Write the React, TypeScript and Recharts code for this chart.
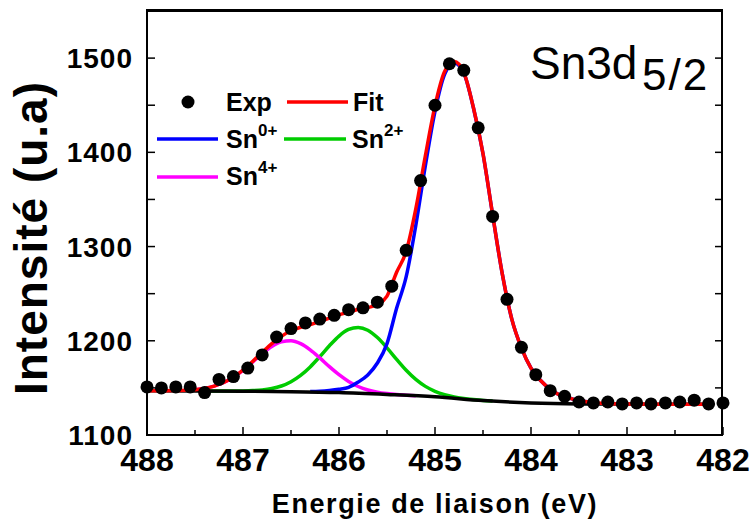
import React from 'react';
import { ComposedChart, Line, Scatter, XAxis, YAxis } from 'recharts';

// Sn3d5/2 XPS spectrum — experimental points, fit, background and components

const expX = [488, 487.85, 487.7, 487.55, 487.4, 487.25, 487.1, 486.95, 486.8, 486.65, 486.5, 486.35, 486.2, 486.05, 485.9, 485.75, 485.6, 485.45, 485.3, 485.15, 485, 484.85, 484.7, 484.55, 484.4, 484.25, 484.1, 483.95, 483.8, 483.65, 483.5, 483.35, 483.2, 483.05, 482.9, 482.75, 482.6, 482.45, 482.3, 482.15, 482];
const expY = [1151, 1150, 1151, 1151, 1145, 1159, 1162, 1171, 1185, 1204, 1213, 1219, 1223, 1227, 1233, 1235, 1241, 1258, 1296, 1370, 1450, 1494, 1487, 1426, 1332, 1244, 1193, 1164, 1147, 1141, 1135, 1134, 1135, 1133, 1134, 1133, 1134, 1135, 1137, 1133, 1134];

const fitX = [488, 487.9, 487.8, 487.7, 487.6, 487.5, 487.4, 487.3, 487.2, 487.1, 487, 486.9, 486.8, 486.7, 486.6, 486.5, 486.4, 486.3, 486.2, 486.1, 486, 485.9, 485.8, 485.7, 485.6, 485.5, 485.4, 485.3, 485.2, 485.1, 485, 484.9, 484.8, 484.7, 484.6, 484.5, 484.4, 484.3, 484.2, 484.1, 484, 483.9, 483.8, 483.7, 483.6, 483.5, 483.4, 483.3, 483.2, 483, 482.5, 482.2];
const fitY = [1147.0, 1147.0, 1147.0, 1147.2, 1147.4, 1148.1, 1149.4, 1151.9, 1155.7, 1161.4, 1169.0, 1178.0, 1187.7, 1197.0, 1204.7, 1210.6, 1214.4, 1217.1, 1220.6, 1224.0, 1227.5, 1230.3, 1233.5, 1235.2, 1238.5, 1247.5, 1272.7, 1294.9, 1340.1, 1396.6, 1449.4, 1485.8, 1496.4, 1484.8, 1447.6, 1398.6, 1334.0, 1271.5, 1223.0, 1192.5, 1171.0, 1157.8, 1148.6, 1142.4, 1139.2, 1136.5, 1135.0, 1133.9, 1133.4, 1132.8, 1132.7, 1132.6];

const bgX = [488, 487.5, 487, 486.5, 486, 485.5, 485, 484.5, 484, 483.5, 483, 482.5, 482.2];
const bgY = [1147, 1146.8, 1146.5, 1146.0, 1145.0, 1143.0, 1140.5, 1136.5, 1134.0, 1133.0, 1132.8, 1132.7, 1132.6];

const sn0X = [486.3, 486.2, 486.1, 486, 485.9, 485.8, 485.7, 485.6, 485.5, 485.4, 485.3, 485.2, 485.1, 485, 484.9, 484.8, 484.7, 484.6, 484.5, 484.4, 484.3, 484.2, 484.1, 484, 483.9, 483.8, 483.7, 483.6, 483.5, 483.4, 483.3];
const sn0Y = [1146.1, 1146.4, 1147.2, 1148.5, 1150.6, 1156.2, 1163.8, 1176.4, 1197.0, 1234.5, 1268.0, 1322.5, 1386.0, 1443.5, 1482.7, 1494.9, 1484.1, 1447.3, 1398.5, 1334.0, 1271.5, 1223.0, 1192.5, 1171.0, 1157.8, 1148.6, 1142.4, 1139.2, 1136.5, 1135.0, 1133.9];

const sn2X = [487.4, 487.3, 487.2, 487.1, 487, 486.9, 486.8, 486.7, 486.6, 486.5, 486.4, 486.3, 486.2, 486.1, 486, 485.9, 485.8, 485.7, 485.6, 485.5, 485.4, 485.3, 485.2, 485.1, 485, 484.9, 484.8, 484.7, 484.6, 484.5, 484.4];
const sn2Y = [1146.7, 1146.7, 1146.6, 1146.7, 1146.8, 1147.1, 1147.8, 1149.3, 1152.0, 1156.6, 1163.3, 1172.3, 1183.2, 1194.7, 1205.0, 1212.0, 1214.2, 1211.2, 1203.4, 1192.5, 1180.3, 1168.7, 1159.0, 1151.6, 1146.4, 1142.8, 1140.4, 1138.8, 1137.6, 1136.6, 1136.0];

const sn4X = [487.6, 487.5, 487.4, 487.3, 487.2, 487.1, 487, 486.9, 486.8, 486.7, 486.6, 486.5, 486.4, 486.3, 486.2, 486.1, 486, 485.9, 485.8, 485.7, 485.6, 485.5, 485.4, 485.3, 485.2];
const sn4Y = [1147.4, 1148.1, 1149.4, 1151.9, 1155.7, 1161.3, 1168.7, 1177.3, 1186.2, 1193.9, 1198.8, 1200.0, 1196.9, 1190.4, 1181.8, 1172.5, 1164.0, 1156.9, 1151.5, 1147.8, 1145.5, 1144.0, 1142.9, 1142.2, 1141.6];

const xTicks = [488, 487.5, 487, 486.5, 486, 485.5, 485, 484.5, 484, 483.5, 483, 482.5, 482];
const yTicks = [1100, 1150, 1200, 1250, 1300, 1350, 1400, 1450, 1500];
const yLabels = [1100, 1200, 1300, 1400, 1500];

const FONT = '"Liberation Sans", Arial, sans-serif';

// chart box
const W = 752;
const H = 519;
const M = { top: 10, right: 29, bottom: 83, left: 146 };
const AX = 1; // thickness reserved for each axis
const PLOT_L = M.left + AX;
const PLOT_T = M.top + AX;
const PLOT_W = W - M.left - M.right - AX;
const PLOT_H = H - M.top - M.bottom - 2 * AX;

const toPoints = (xs: number[], ys: number[]) => xs.map((x, i) => ({ x, y: ys[i] }));

const BottomTick = (props: any) => {
    const { x, y, payload } = props;
    const major = Number.isInteger(payload.value);
    return (
        <g>
            <line x1={x} y1={y} x2={x} y2={y - (major ? 8 : 5)} stroke="#000" strokeWidth={1.5} />
            {major && (
                <text x={x} y={y + 36} textAnchor="middle" fontFamily={FONT} fontWeight="bold" fontSize={32} fill="#000">
                    {payload.value}
                </text>
            )}
        </g>
    );
};

const TopTick = (props: any) => {
    const { x, y, payload } = props;
    const major = Number.isInteger(payload.value);
    return <line x1={x} y1={y} x2={x} y2={y + (major ? 8 : 6)} stroke="#000" strokeWidth={1.5} />;
};

// left ticks with labels, plus the matching inward tick on the right side of the frame
const LeftTick = (props: any) => {
    const { x, y, payload } = props;
    const xr = x + PLOT_W;
    return (
        <g>
            <line x1={x} y1={y} x2={x + 8} y2={y} stroke="#000" strokeWidth={1.5} />
            <line x1={xr} y1={y} x2={xr - 8} y2={y} stroke="#000" strokeWidth={1.5} />
            {yLabels.includes(payload.value) && (
                <text x={x - 14} y={y + 10} textAnchor="end" fontFamily={FONT} fontWeight="bold" fontSize={28} letterSpacing={1} fill="#000">
                    {payload.value}
                </text>
            )}
        </g>
    );
};

const Dot = (p: any) => <circle cx={p.cx} cy={p.cy} r={6.5} fill="#000" />;

export default function App() {
    const axisLine = { stroke: '#000', strokeWidth: 2 };
    return (
        <div style={{ position: 'absolute', left: 0, top: 0, width: W, height: H, background: '#fff' }}>
            <ComposedChart width={W} height={H} margin={M}>
                <XAxis xAxisId="b" dataKey="x" type="number" domain={[482, 488]} reversed ticks={xTicks} interval={0}
                    height={AX} tickSize={0} tickMargin={0} axisLine={axisLine} tickLine={false} tick={BottomTick} />
                <XAxis xAxisId="t" orientation="top" dataKey="x" type="number" domain={[482, 488]} reversed ticks={xTicks} interval={0}
                    height={AX} tickSize={0} tickMargin={0} axisLine={axisLine} tickLine={false} tick={TopTick} />
                <YAxis yAxisId="l" dataKey="y" type="number" domain={[1100, 1550]} ticks={yTicks} interval={0}
                    width={AX} tickSize={0} tickMargin={0} axisLine={axisLine} tickLine={false} tick={LeftTick} />

                <Scatter xAxisId="b" yAxisId="l" data={toPoints(expX, expY)} dataKey="y" fill="#000" shape={Dot} isAnimationActive={false} />
                <Line xAxisId="b" yAxisId="l" data={toPoints(sn2X, sn2Y)} dataKey="y" type="monotone" stroke="#00cc00" strokeWidth={3.5} dot={false} activeDot={false} isAnimationActive={false} />
                <Line xAxisId="b" yAxisId="l" data={toPoints(sn4X, sn4Y)} dataKey="y" type="monotone" stroke="#ff00ff" strokeWidth={3.5} dot={false} activeDot={false} isAnimationActive={false} />
                <Line xAxisId="b" yAxisId="l" data={toPoints(sn0X, sn0Y)} dataKey="y" type="monotone" stroke="#0000ff" strokeWidth={3.5} dot={false} activeDot={false} isAnimationActive={false} />
                <Line xAxisId="b" yAxisId="l" data={toPoints(bgX, bgY)} dataKey="y" type="monotone" stroke="#000" strokeWidth={3.5} dot={false} activeDot={false} isAnimationActive={false} />
                <Line xAxisId="b" yAxisId="l" data={toPoints(fitX, fitY)} dataKey="y" type="monotone" stroke="#ff0000" strokeWidth={3.5} dot={false} activeDot={false} isAnimationActive={false} />
            </ComposedChart>

            {/* frame, titles, legend and annotation */}
            <svg width={W} height={H} style={{ position: 'absolute', left: 0, top: 0, pointerEvents: 'none' }}>
                <rect x={PLOT_L} y={PLOT_T - 1} width={PLOT_W - 1} height={PLOT_H + 1} fill="none" stroke="#000" strokeWidth={2} />

                <text transform="translate(47,238) rotate(-90)" textAnchor="middle" fontFamily={FONT} fontWeight="bold" fontSize={46} letterSpacing={1} fill="#000">
                    Intensité (u.a)
                </text>
                <text x={435} y={513} textAnchor="middle" fontFamily={FONT} fontWeight="bold" fontSize={27} letterSpacing={1.6} fill="#000">
                    Energie de liaison (eV)
                </text>

                <text x={530} y={79} fontFamily={FONT} fontSize={46} fill="#000">Sn3d</text>
                <text x={642} y={90} fontFamily={FONT} fontSize={44} letterSpacing={2} fill="#000">5/2</text>

                <g fontFamily={FONT} fontWeight="bold" fill="#000">
                    <circle cx={188} cy={102} r={6.5} fill="#000" />
                    <text x={226} y={111} fontSize={25}>Exp</text>
                    <line x1={287} y1={102} x2={348} y2={102} stroke="#ff0000" strokeWidth={3.5} />
                    <text x={353} y={111} fontSize={25}>Fit</text>

                    <line x1={157} y1={139} x2={218} y2={139} stroke="#0000ff" strokeWidth={3.5} />
                    <text x={226} y={148} fontSize={25}>Sn<tspan fontSize={17} dy={-12}>0+</tspan></text>
                    <line x1={284} y1={139} x2={346} y2={139} stroke="#00cc00" strokeWidth={3.5} />
                    <text x={352} y={148} fontSize={25}>Sn<tspan fontSize={17} dy={-12}>2+</tspan></text>

                    <line x1={157} y1={177} x2={218} y2={177} stroke="#ff00ff" strokeWidth={3.5} />
                    <text x={226} y={185} fontSize={25}>Sn<tspan fontSize={17} dy={-12}>4+</tspan></text>
                </g>
            </svg>
        </div>
    );
}
